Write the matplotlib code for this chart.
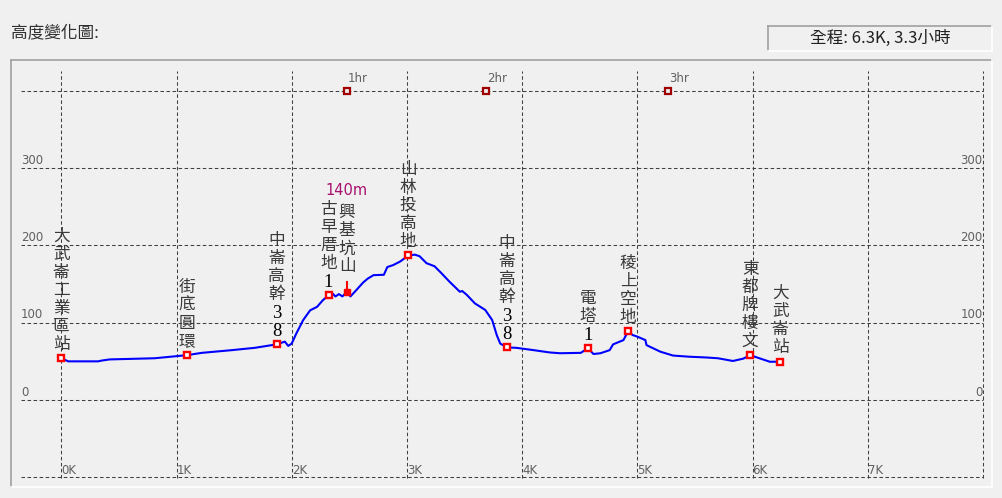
import matplotlib.pyplot as plt
from matplotlib.lines import Line2D

# elevation profile (km, m)
dist_km = [0.00, 0.06, 0.32, 0.35, 0.42, 0.81, 1.09, 1.22, 1.48, 1.68, 1.87,
           1.94, 1.97, 2.00, 2.04, 2.10, 2.16, 2.22, 2.27, 2.32, 2.36, 2.38,
           2.41, 2.44, 2.48, 2.51, 2.56, 2.62, 2.66, 2.71, 2.80, 2.83, 2.88,
           2.94, 3.00, 3.01, 3.07, 3.11, 3.17, 3.24, 3.30, 3.37, 3.46, 3.48,
           3.52, 3.59, 3.68, 3.74, 3.78, 3.81, 3.87, 3.95, 4.10, 4.24, 4.33,
           4.51, 4.57, 4.62, 4.68, 4.76, 4.79, 4.88, 4.92, 4.96, 5.00, 5.07,
           5.08, 5.20, 5.31, 5.45, 5.60, 5.70, 5.83, 5.92, 5.98, 6.04, 6.15,
           6.24]
elev_m = [54, 50, 50, 51, 52.5, 54, 58, 61, 64.5, 67.5, 72,
          75.5, 70, 73, 86, 103.5, 116, 120.5, 129, 135.5, 137, 134,
          137, 134, 140, 134, 142, 152, 157, 161.5, 162, 172, 174.5,
          179, 185.5, 187, 188, 186, 177, 173, 164, 153, 140, 141,
          136, 125, 116.5, 103.5, 84, 73, 68, 67.5, 64.5, 61.5, 60.5,
          61, 67, 59.5, 60.5, 64.5, 72, 77.5, 89, 84, 82, 77.5,
          71, 62.5, 57.5, 56, 55, 54, 50.5, 53.5, 58, 55, 49.5,
          49.5]

# waypoints
wp_names = ['大武崙工業區站', '街底圓環', '中崙高幹38', '古早厝地1', '興基坑山',
            '山林投高地', '中崙高幹38', '電塔1', '稜上空地', '東都牌樓文', '大武崙站']
wp_km = [0.0, 1.09, 1.87, 2.32, 2.48, 3.01, 3.87, 4.57, 4.92, 5.98, 6.24]
wp_m = [54, 58, 72, 135.5, 140, 187, 68, 67, 89, 58, 49.5]
peak_name = '興基坑山'
peak_label = '140m'

# time marks
hr_labels = ['1hr', '2hr', '3hr']
hr_km = [2.48, 3.69, 5.27]

y_ticks = [0, 100, 200, 300]
x_ticks = [0, 1, 2, 3, 4, 5, 6, 7]

W, H = 1003, 498
X0, PX_KM = 61.3, 115.2   # pixel of 0K, pixels per km
Y0, PX_M = 400.0, 0.773   # pixel of 0 m, pixels per m

def px2km(x):
    return (x - X0) / PX_KM

def px2m(y):
    return (Y0 - y) / PX_M

def fx(x):
    return x / W

def fy(y):
    return 1 - y / H

BG = '#f0f0f0'
GRID = '#404040'
CJK = ['Noto Sans CJK TC', 'DejaVu Sans']

fig = plt.figure(figsize=(W / 100, H / 100), dpi=100, facecolor=BG)
ax = fig.add_axes([0, 0, 1, 1])
ax.set_facecolor(BG)
ax.set_xlim(px2km(0), px2km(W))
ax.set_ylim(px2m(H), px2m(0))
ax.axis('off')

dash = (0, (3.4, 2.4))
# grid
for v in range(-100, 500, 100):
    ax.plot([px2km(21), 8], [v, v], ls=dash, color=GRID, lw=0.75)
for k in range(0, 9):
    ax.plot([k, k], [px2m(477.7), px2m(71)], ls=dash, color=GRID, lw=0.75)

# tick labels
for v in y_ticks:
    ax.annotate(str(v), (px2km(21), v), xytext=(0, 8), textcoords='offset pixels',
                ha='left', va='center', fontsize=8.5, color='#606060')
    ax.annotate(str(v), (px2km(982.5), v), xytext=(0, 8), textcoords='offset pixels',
                ha='right', va='center', fontsize=8.5, color='#606060')
for k in x_ticks:
    ax.annotate('%dK' % k, (k, -100), xytext=(0, 7), textcoords='offset pixels',
                ha='left', va='center', fontsize=8.5, color='#606060')

# time marks on top line
ax.plot(hr_km, [400] * len(hr_km), 's', ms=4.2, mfc=BG, mec='#a00000', mew=1.6)
for lab, k in zip(hr_labels, hr_km):
    ax.annotate(lab, (k, 400), xytext=(1, 12), textcoords='offset pixels',
                ha='left', va='center', fontsize=8.5, color='#606060')

# profile
ax.plot(dist_km, elev_m, color='#0000ff', lw=1.5, solid_joinstyle='round')

# waypoints
for name, k, m in zip(wp_names, wp_km, wp_m):
    if name == peak_name:
        ax.plot([k, k], [m, m + 10 / PX_M], color='red', lw=1.5)
        ax.plot([k], [m], 's', ms=4.2, color='red')
        gap = 15
    else:
        ax.plot([k], [m], 's', ms=4.2, mfc='white', mec='red', mew=1.7)
        gap = 4
    chars = list(name)
    for i, ch in enumerate(reversed(chars)):
        if ch.isdigit():
            ax.annotate(ch, (k, m), xytext=(0, gap + 9 + 18 * i), textcoords='offset pixels',
                        ha='center', va='center', fontsize=13.5, color='black',
                        family='Liberation Serif')
        else:
            ax.annotate(ch, (k, m), xytext=(0, gap + 10 + 18 * i), textcoords='offset pixels',
                        ha='center', va='center', fontsize=12, color='#3a3a3a',
                        family=CJK)
    if name == peak_name:
        ax.annotate(peak_label, (k, m), xytext=(0, gap + 18 * len(chars) + 14),
                    textcoords='offset pixels', ha='center', va='center',
                    fontsize=10.5, color='#a8106e')

# title and info box
fig.text(fx(11), fy(33), '高度變化圖:', ha='left', va='center', fontsize=12,
         color='#303030', family=CJK)
fig.text(fx(880), fy(38.5), '全程: 6.3K, 3.3小時', ha='center', va='center',
         fontsize=12, color='#202020', family=CJK)

def frame(x1, y1, x2, y2):
    fig.add_artist(Line2D([fx(x1), fx(x2)], [fy(y1), fy(y1)], color='#a0a0a0', lw=1.2))
    fig.add_artist(Line2D([fx(x1), fx(x1)], [fy(y1), fy(y2)], color='#a0a0a0', lw=1.2))
    fig.add_artist(Line2D([fx(x1), fx(x2)], [fy(y2), fy(y2)], color='white', lw=1.2))
    fig.add_artist(Line2D([fx(x2), fx(x2)], [fy(y1), fy(y2)], color='white', lw=1.2))

frame(768, 26, 992, 51)
frame(10.5, 60.5, 992, 487)

fig.savefig('out.png', dpi=100, facecolor=BG)
